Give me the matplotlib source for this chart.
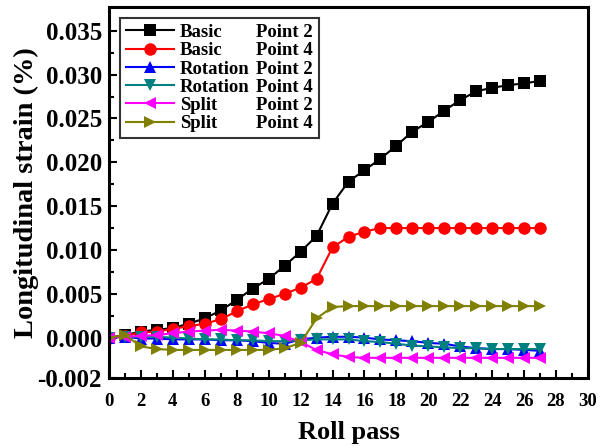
import matplotlib
matplotlib.use("Agg")
import matplotlib.pyplot as plt
from matplotlib.ticker import MultipleLocator, FixedLocator
from matplotlib.lines import Line2D
import numpy as np

plt.rcParams['font.family'] = ['Liberation Serif', 'DejaVu Serif']
plt.rcParams['font.weight'] = 'bold'

roll_pass = list(range(28))

basic_p2 = [0, 0.0003, 0.0007, 0.0009, 0.0011, 0.0016, 0.0022, 0.0031, 0.0043, 0.0056,
            0.0067, 0.0082, 0.0098, 0.0116, 0.0153, 0.0178, 0.0191, 0.0204, 0.0219, 0.0235,
            0.0246, 0.0259, 0.0271, 0.0281, 0.0285, 0.0288, 0.0290, 0.0293]
basic_p4 = [0, 0.0002, 0.0006, 0.0007, 0.0010, 0.0013, 0.0016, 0.0021, 0.0030, 0.0038,
            0.0044, 0.0050, 0.0057, 0.0067, 0.0103, 0.0115, 0.0121, 0.0125, 0.0125, 0.0125,
            0.0125, 0.0125, 0.0125, 0.0125, 0.0125, 0.0125, 0.0125, 0.0125]
rot_p2 = [0, 0.0001, -0.0001, -0.0001, -0.0002, -0.0002, -0.0002, -0.0003, -0.0003, -0.0004,
          -0.0006, -0.0007, -0.0002, 0.0000, 0.0001, 0.0001, 0.0000, -0.0002, -0.0003, -0.0004,
          -0.0006, -0.0007, -0.0010, -0.0012, -0.0013, -0.0013, -0.0014, -0.0015]
rot_p4 = [0, 0.0001, 0.0001, 0.0001, 0.0000, -0.0001, -0.0002, -0.0002, -0.0003, -0.0003,
          -0.0004, -0.0004, -0.0003, -0.0002, -0.0002, -0.0002, -0.0004, -0.0005, -0.0007, -0.0009,
          -0.0010, -0.0011, -0.0012, -0.0012, -0.0013, -0.0013, -0.0013, -0.0013]
split_p2 = [0, 0.0001, 0.0002, 0.0003, 0.0005, 0.0007, 0.0008, 0.0009, 0.0008, 0.0007,
            0.0005, 0.0002, -0.0005, -0.0014, -0.0019, -0.0022, -0.0023, -0.0023, -0.0023, -0.0023,
            -0.0023, -0.0023, -0.0023, -0.0023, -0.0023, -0.0023, -0.0023, -0.0023]
split_p4 = [0, 0.0003, -0.0010, -0.0013, -0.0014, -0.0014, -0.0014, -0.0014, -0.0014, -0.0014,
            -0.0014, -0.0012, -0.0006, 0.0022, 0.0035, 0.0036, 0.0036, 0.0036, 0.0036, 0.0036,
            0.0036, 0.0036, 0.0036, 0.0036, 0.0036, 0.0036, 0.0036, 0.0036]

series_names = ['Basic', 'Basic', 'Rotation', 'Rotation', 'Split', 'Split']
point_names = ['Point 2', 'Point 4', 'Point 2', 'Point 4', 'Point 2', 'Point 4']
series_data = [basic_p2, basic_p4, rot_p2, rot_p4, split_p2, split_p4]
colors = ['#000000', '#FF0000', '#0000FF', '#008080', '#FF00FF', '#808000']
markers = ['s', 'o', '^', 'v', '<', '>']
msizes = [8, 9, 9, 9, 9, 9]

y_tick_vals = [-0.0046, 0.0, 0.005, 0.010, 0.015, 0.020, 0.025, 0.030, 0.035]
y_tick_labels = ['-0.002', '0.000', '0.005', '0.010', '0.015', '0.020', '0.025', '0.030', '0.035']

fig = plt.figure(figsize=(6.16, 4.46), dpi=100)
ax = fig.add_axes([0.177, 0.1525, 0.7775, 0.8315])

handles = []
for name, data, c, m, ms in zip(series_names, series_data, colors, markers, msizes):
    h, = ax.plot(roll_pass, data, color=c, marker=m, markersize=ms, linewidth=1.5,
                 markeredgewidth=0, label=name)
    handles.append(h)

ax.set_xlim(0, 30)
ax.set_ylim(-0.0046, 0.0377)
ax.xaxis.set_major_locator(MultipleLocator(2))
ax.xaxis.set_minor_locator(MultipleLocator(1))
ax.yaxis.set_major_locator(FixedLocator(y_tick_vals))
ax.set_yticklabels(y_tick_labels)
ax.yaxis.set_minor_locator(FixedLocator(list(np.arange(0.0025, 0.036, 0.005))))

for lab in ax.get_xticklabels():
    lab.set_fontsize(13.5)
    lab.set_fontweight('bold')
for lab in ax.get_yticklabels():
    lab.set_fontsize(18)
    lab.set_fontweight('bold')

ax.tick_params(which='both', direction='in', top=False, right=False, width=1.5)
ax.tick_params(which='major', length=6)
ax.tick_params(which='minor', length=3.5)
ax.tick_params(axis='x', pad=11)
ax.tick_params(axis='y', pad=5)
for sp in ax.spines.values():
    sp.set_linewidth(2.2)

ax.set_xlabel('Roll pass', fontsize=19, fontweight='bold', labelpad=8)
ax.set_ylabel('Longitudinal strain (%)', fontsize=20.5, fontweight='bold', labelpad=-1)

legend_fs = 13.5
hl = 2.6
tp = 0.3
blank = [Line2D([], [], linestyle='none') for _ in point_names]
leg = ax.legend(handles + blank, series_names + point_names, ncol=2,
                loc='upper left', bbox_to_anchor=(0.023, 0.97),
                frameon=True, fancybox=False, edgecolor='black',
                handlelength=hl, handletextpad=tp, labelspacing=0.06,
                columnspacing=-(hl + tp) + 0.35,
                borderpad=0.3, borderaxespad=0.0, prop={'weight': 'bold', 'size': legend_fs})
leg.get_frame().set_linewidth(1.5)

fig.savefig('out.png', dpi=100)
